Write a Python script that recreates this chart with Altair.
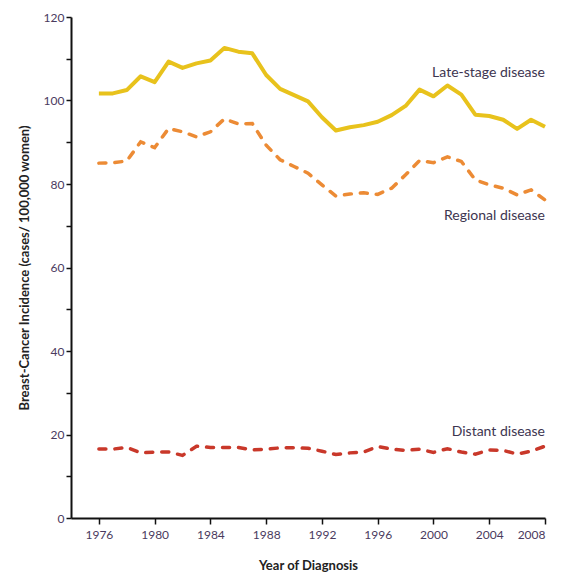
import altair as alt
import pandas as pd

years = list(range(1976, 2009))
late_stage = [101.7, 101.7, 102.5, 105.8, 104.4, 109.3, 107.8, 108.9, 109.6, 112.6,
              111.7, 111.3, 106.1, 102.8, 101.3, 99.8, 96.0, 92.8, 93.6, 94.1,
              94.9, 96.5, 98.7, 102.6, 101.0, 103.6, 101.4, 96.6, 96.3, 95.4,
              93.2, 95.4, 93.7]
regional = [85.0, 85.1, 85.5, 90.1, 88.7, 93.3, 92.5, 91.3, 92.5, 95.6,
            94.4, 94.5, 89.3, 85.8, 84.2, 82.6, 79.8, 77.1, 77.6, 77.9,
            77.5, 79.0, 82.2, 85.6, 85.1, 86.5, 85.4, 81.0, 79.8, 79.0,
            77.4, 78.6, 76.2]
distant = [16.5, 16.5, 16.9, 15.6, 15.8, 15.8, 15.0, 17.2, 16.9, 16.9,
           16.9, 16.3, 16.5, 16.8, 16.8, 16.7, 16.0, 15.2, 15.6, 15.8,
           17.1, 16.5, 16.2, 16.5, 15.7, 16.6, 15.8, 15.3, 16.3, 16.2,
           15.3, 16.0, 17.2]

series_names = ["Late-stage disease", "Regional disease", "Distant disease"]
series_colors = ["#E8C21C", "#EC8B35", "#C9382A"]
label_years = [2008, 2008, 2008]
label_values = [106.6, 72.3, 20.6]

rows = []
for name, vals in zip(series_names, [late_stage, regional, distant]):
    for yr, v in zip(years, vals):
        rows.append({"year": yr, "value": v, "series": name})
df = pd.DataFrame(rows)

labels_df = pd.DataFrame({"year": label_years, "value": label_values, "series": series_names})

FONT = "Lato"

x_scale = alt.Scale(domain=[1974, 2008], nice=False, zero=False)
y_scale = alt.Scale(domain=[0, 120], nice=False)

x_enc = alt.X("year:Q", scale=x_scale,
              axis=alt.Axis(values=list(range(1976, 2009, 4)), format="d", grid=False,
                            title="Year of Diagnosis", titleFont=FONT, titleFontSize=13,
                            titleFontWeight="bold", titleColor="#222", titlePadding=19,
                            labelFont=FONT, labelFontSize=12, labelColor="#4a3a5e",
                            labelPadding=5,
                            domainColor="#111", domainWidth=2, tickColor="#111",
                            tickWidth=1.5, tickSize=6))
y_enc = alt.Y("value:Q", scale=y_scale,
              axis=alt.Axis(values=list(range(0, 121, 10)), grid=False,
                            labelExpr="datum.value % 20 == 0 ? datum.label : ''",
                            title="Breast-Cancer Incidence (cases/ 100,000 women)",
                            titleFont=FONT, titleFontSize=13, titleFontWeight="bold",
                            titleColor="#222", titlePadding=12,
                            labelFont=FONT, labelFontSize=12, labelColor="#4a3a5e",
                            labelPadding=2,
                            domainColor="#111", domainWidth=2, tickColor="#111",
                            tickWidth=1.5, tickSize=5))

solid = alt.Chart(df[df.series == "Late-stage disease"]).mark_line(
    strokeWidth=4, color=series_colors[0], strokeJoin="round"
).encode(x=x_enc, y=y_enc)

regional_line = alt.Chart(df[df.series == "Regional disease"]).mark_line(
    strokeWidth=3.5, color=series_colors[1], strokeDash=[7, 9], strokeCap="round"
).encode(x=x_enc, y=y_enc)

distant_line = alt.Chart(df[df.series == "Distant disease"]).mark_line(
    strokeWidth=3.5, color=series_colors[2], strokeDash=[7, 9], strokeCap="round"
).encode(x=x_enc, y=y_enc)

labels = alt.Chart(labels_df).mark_text(
    align="right", baseline="middle", font=FONT, fontSize=14, color="#3d3550"
).encode(x="year:Q", y="value:Q", text="series:N")

chart = alt.layer(solid, regional_line, distant_line, labels).properties(
    width=474, height=501,
    autosize=alt.AutoSizeParams(type="none"),
    padding={"left": 63, "top": 9, "right": 12, "bottom": 62},
    background="white"
).configure_view(stroke=None)

chart.save("out.html", embed_options={"renderer": "svg", "actions": False})
